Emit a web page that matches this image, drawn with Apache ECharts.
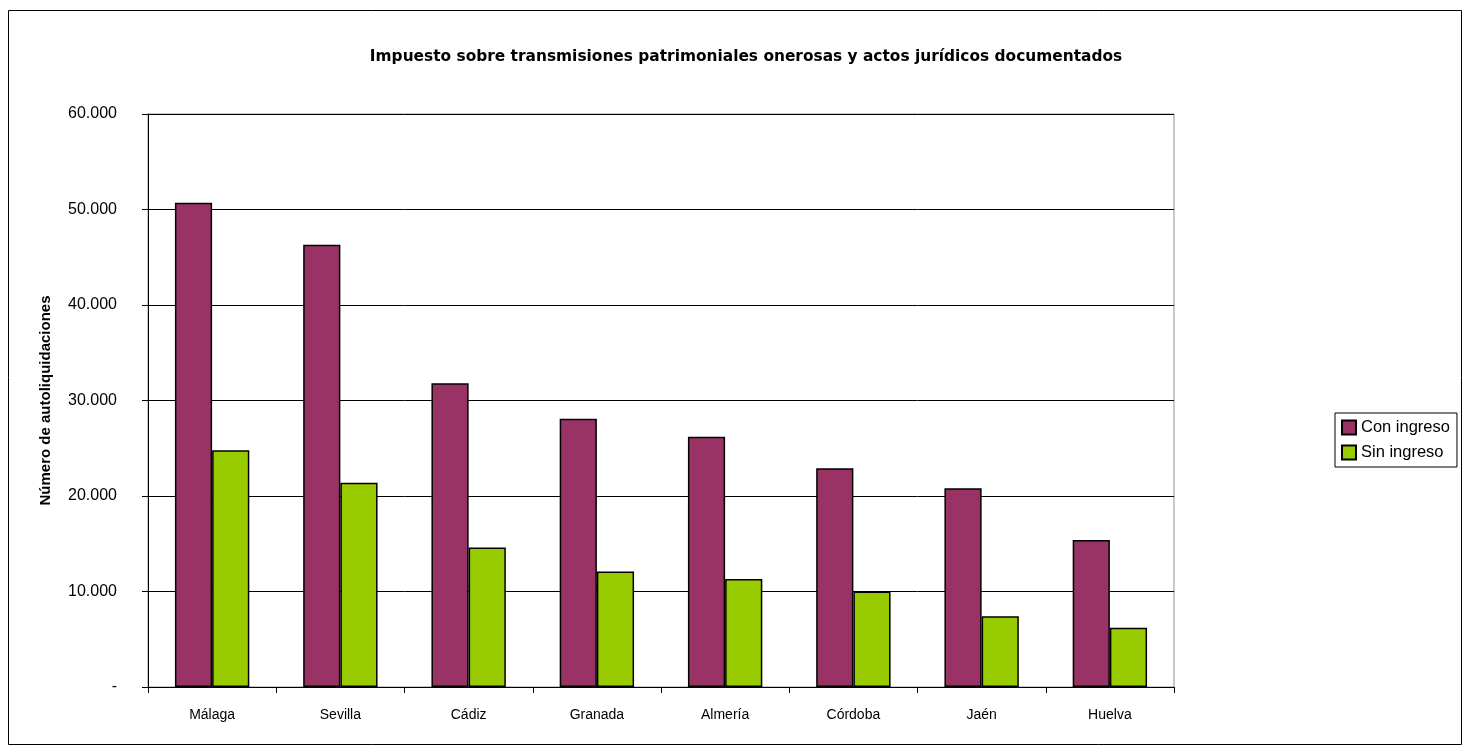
<!DOCTYPE html>
<html>
<head>
<meta charset="utf-8">
<script src="https://cdn.jsdelivr.net/npm/echarts@6/dist/echarts.min.js"></script>
<style>
html,body{margin:0;padding:0;background:#fff;}
#c{width:1463px;height:747px;}
</style>
</head>
<body>
<div id="c"></div>
<script>
const categories = ["Málaga","Sevilla","Cádiz","Granada","Almería","Córdoba","Jaén","Huelva"];
const conIngreso = [50700, 46300, 31800, 28100, 26200, 22900, 20800, 15400];
const sinIngreso = [24800, 21400, 14600, 12100, 11300, 10000, 7400, 6200];
const seriesNames = ["Con ingreso","Sin ingreso"];
const titleText = "Impuesto sobre transmisiones patrimoniales onerosas y actos jurídicos documentados";
const yAxisName = "Número de autoliquidaciones";

const chart = echarts.init(document.getElementById('c'), null, {renderer:'canvas'});
const font = "'Liberation Sans', Arial, sans-serif";
chart.setOption({
  backgroundColor:'#fff',
  animation:false,
  graphic:[{type:'rect', shape:{x:8.5,y:10.5,width:1453,height:734}, style:{fill:'none', stroke:'#000', lineWidth:1}, z:-1}],
  title:{text:titleText, left:741, top:44, textAlign:'center',
    textStyle:{fontFamily:"'DejaVu Sans', sans-serif", fontWeight:'bold', fontSize:15.4, color:'#000'}},
  legend:{orient:'vertical', left:1335, top:413, itemWidth:14, itemHeight:14, itemGap:8,
    borderColor:'#000', borderWidth:1, padding:[6,7,6,6],
    textStyle:{fontFamily:font, fontSize:16.5, color:'#000'},
    data:seriesNames.map(n=>({name:n, icon:'rect'}))},
  grid:{left:148, right:289, top:114, bottom:60, show:true, borderColor:'#909090', borderWidth:1},
  xAxis:{type:'category', data:categories,
    axisLine:{lineStyle:{color:'#000', width:1}},
    axisTick:{show:true, alignWithLabel:false, length:6, lineStyle:{color:'#000'}},
    axisLabel:{fontFamily:font, fontSize:14, color:'#000', margin:21}},
  yAxis:{type:'value', min:0, max:60000, interval:10000,
    name:yAxisName, nameLocation:'middle', nameGap:95,
    nameTextStyle:{fontFamily:font, fontWeight:'bold', fontSize:15, color:'#000'},
    axisLine:{show:true, lineStyle:{color:'#000', width:1}},
    axisTick:{show:true, length:6, lineStyle:{color:'#000'}},
    splitLine:{show:true, lineStyle:{color:'#000', width:1}},
    axisLabel:{fontFamily:font, fontSize:16, color:'#000', margin:31,
      formatter:v=> v===0 ? '-' : v.toLocaleString('de-DE')}},
  series:[
    {name:seriesNames[0], type:'bar', data:conIngreso, barGap:'0%', barCategoryGap:'42%',
     itemStyle:{color:'#993366', borderColor:'#000', borderWidth:1.5}},
    {name:seriesNames[1], type:'bar', data:sinIngreso,
     itemStyle:{color:'#99CC00', borderColor:'#000', borderWidth:1.5}}
  ]
});
</script>
</body>
</html>
